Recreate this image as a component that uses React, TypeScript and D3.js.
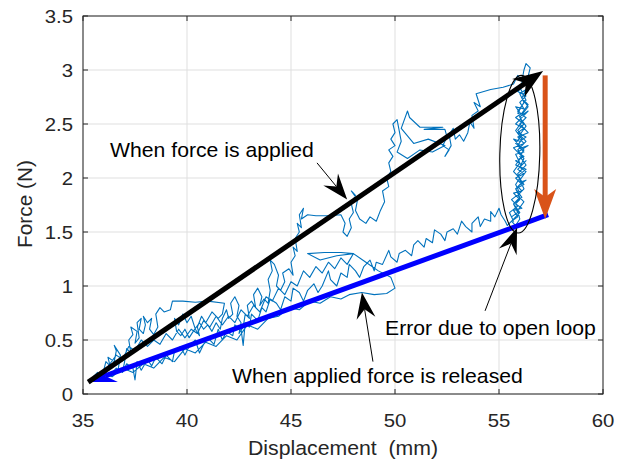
import React from "react";
import * as d3 from "d3";

const W = 628;
const H = 460;

const xTicks = [35, 40, 45, 50, 55, 60];
const yTicks = [0, 0.5, 1, 1.5, 2, 2.5, 3, 3.5];

const loadingPath = [
  [35.5, 0.16], [35.7, 0.2], [35.8, 0.15], [36.0, 0.22], [36.1, 0.3], [36.3, 0.26], [36.2, 0.34], [36.5, 0.3],
  [36.6, 0.4], [36.5, 0.45], [36.8, 0.36], [36.7, 0.24], [36.9, 0.2], [37.0, 0.3], [37.1, 0.42], [37.3, 0.38],
  [37.2, 0.5], [37.4, 0.55], [37.3, 0.62], [37.6, 0.58], [37.5, 0.47], [37.7, 0.52], [37.6, 0.66], [37.8, 0.7],
  [37.7, 0.6], [37.9, 0.56], [38.0, 0.64], [37.9, 0.72], [38.1, 0.66], [38.3, 0.7], [38.2, 0.6], [38.4, 0.55],
  [38.6, 0.62], [38.5, 0.74], [38.7, 0.8], [38.9, 0.76], [39.2, 0.78], [39.3, 0.86], [39.8, 0.86], [40.4, 0.85],
  [41.0, 0.86], [41.8, 0.84], [41.7, 0.74], [41.5, 0.7], [41.2, 0.76], [40.9, 0.66], [40.7, 0.72], [40.5, 0.62],
  [40.6, 0.54], [40.4, 0.6], [40.2, 0.72], [40.0, 0.66], [39.8, 0.74], [39.6, 0.64], [39.4, 0.7], [39.5, 0.58],
  [39.7, 0.54], [39.9, 0.6], [40.1, 0.52], [40.3, 0.58], [40.6, 0.66], [40.8, 0.6], [41.0, 0.64], [41.2, 0.58],
  [41.4, 0.66], [41.6, 0.6], [41.7, 0.7], [41.9, 0.78], [42.0, 0.7], [42.2, 0.74], [42.1, 0.84], [42.3, 0.9],
  [42.5, 0.82], [42.4, 0.72], [42.6, 0.66], [42.5, 0.56], [42.7, 0.62], [42.8, 0.74], [43.0, 0.7], [42.9, 0.82],
  [43.1, 0.86], [43.3, 0.8], [43.2, 0.92], [43.4, 0.98], [43.6, 0.9], [43.5, 0.82], [43.7, 0.88], [43.9, 0.84],
  [44.0, 0.96], [43.9, 1.06], [44.1, 1.14], [44.0, 1.24], [44.2, 1.2], [44.4, 1.1], [44.3, 1.0], [44.5, 0.96],
  [44.7, 1.04], [44.6, 1.12], [44.9, 1.16], [45.1, 1.1], [45.0, 1.22], [45.2, 1.28], [45.1, 1.36], [45.3, 1.32],
  [45.2, 1.44], [45.4, 1.5], [45.3, 1.58], [45.5, 1.54], [45.4, 1.66], [45.6, 1.72], [45.5, 1.62], [45.8, 1.66],
  [46.2, 1.65], [46.8, 1.65], [47.4, 1.66], [47.6, 1.58], [47.5, 1.5], [47.7, 1.46], [47.9, 1.54], [47.8, 1.62],
  [48.0, 1.68], [47.9, 1.76], [48.1, 1.84], [47.9, 1.88], [48.2, 1.8], [48.1, 1.7], [48.3, 1.62], [48.6, 1.58],
  [48.8, 1.64], [49.1, 1.6], [49.3, 1.7], [49.5, 1.78], [49.4, 1.88], [49.7, 1.92], [49.6, 2.0], [49.8, 2.06],
  [49.7, 2.14], [49.9, 2.2], [49.7, 2.26], [50.0, 2.3], [49.8, 2.36], [50.0, 2.42], [49.9, 2.5], [50.1, 2.54],
  [50.3, 2.34], [50.1, 2.24], [50.6, 2.18], [51.2, 2.26], [51.8, 2.24], [52.4, 2.3], [51.6, 2.36], [50.9, 2.32],
  [50.3, 2.46], [50.6, 2.62], [50.7, 2.56], [51.2, 2.47], [52.3, 2.47], [51.4, 2.45], [52.4, 2.45], [52.5, 2.38],
  [52.3, 2.3], [52.6, 2.26], [52.4, 2.2], [52.7, 2.3], [52.6, 2.4], [52.8, 2.46], [52.9, 2.36], [53.1, 2.4],
  [53.3, 2.34], [53.5, 2.42], [53.6, 2.52], [53.8, 2.46], [53.7, 2.58], [54.0, 2.62], [53.8, 2.7], [54.1, 2.66],
  [53.9, 2.78], [54.6, 2.82], [55.2, 2.84], [55.7, 2.87], [55.9, 2.95], [56.1, 2.9], [56.2, 3.0], [56.3, 3.06],
  [56.5, 3.02], [56.4, 2.94],
];

const openLoopPath = [
  [56.2, 2.86], [55.9, 2.8], [56.3, 2.76], [56.0, 2.7], [56.2, 2.64], [55.8, 2.66], [56.1, 2.58], [56.4, 2.62],
  [56.0, 2.54], [55.8, 2.5], [56.2, 2.46], [55.9, 2.42], [56.3, 2.38], [56.0, 2.34], [55.7, 2.36], [56.1, 2.28],
  [56.4, 2.3], [55.9, 2.24], [56.2, 2.2], [55.8, 2.16], [56.1, 2.12], [56.3, 2.16], [55.9, 2.08], [56.2, 2.04],
  [55.8, 2.0], [56.0, 1.96], [56.3, 1.98], [55.9, 1.92], [56.1, 1.88], [55.7, 1.86], [56.0, 1.8], [55.8, 1.76],
  [56.1, 1.72], [55.7, 1.7], [55.9, 1.64], [55.6, 1.6], [55.8, 1.56], [56.0, 1.62], [55.9, 1.7], [56.2, 1.78],
  [55.9, 1.84], [56.2, 1.9], [56.0, 1.98], [56.3, 2.06], [56.0, 2.1], [56.2, 2.18], [55.9, 2.26], [56.3, 2.34],
  [56.0, 2.4], [56.3, 2.48], [56.0, 2.56], [56.4, 2.66], [56.1, 2.74], [56.4, 2.84], [56.2, 2.92], [56.0, 2.84],
  [56.3, 2.72], [55.9, 2.62], [56.1, 2.52], [55.8, 2.44], [56.1, 2.36], [55.9, 2.3], [56.2, 2.24], [55.8, 2.22],
  [56.0, 2.14], [55.7, 2.06], [56.0, 2.0], [55.8, 1.94], [56.0, 1.86], [55.6, 1.8], [55.9, 1.74], [55.5, 1.68],
  [55.7, 1.6], [55.6, 1.64], [55.9, 1.68], [55.7, 1.76], [56.1, 1.82], [55.8, 1.9], [56.2, 1.94], [55.9, 2.02],
  [56.3, 2.08], [55.8, 2.12], [56.1, 2.2], [55.7, 2.28], [56.2, 2.32], [55.9, 2.38], [56.4, 2.42], [56.0, 2.5],
  [56.3, 2.56], [55.9, 2.6], [56.2, 2.7], [56.0, 2.78], [56.3, 2.82], [56.1, 2.74], [56.4, 2.68], [56.1, 2.6],
  [55.8, 2.56], [56.2, 2.5], [55.9, 2.44], [56.1, 2.4], [55.8, 2.32], [56.2, 2.26], [56.0, 2.2], [56.3, 2.12],
  [55.9, 2.04], [56.1, 1.96], [55.8, 1.9], [56.0, 1.82], [55.7, 1.76], [56.0, 1.68], [55.7, 1.62], [55.4, 1.56],
];

const releasePath = [
  [55.3, 1.6], [55.1, 1.66], [55.0, 1.72], [54.8, 1.64], [54.6, 1.69], [54.6, 1.6], [54.3, 1.62], [54.1, 1.55],
  [54.0, 1.64], [53.7, 1.58], [53.7, 1.5], [53.4, 1.55], [53.2, 1.6], [53.0, 1.48], [52.8, 1.53], [52.5, 1.5],
  [52.4, 1.42], [52.2, 1.48], [51.9, 1.52], [51.8, 1.4], [51.5, 1.44], [51.4, 1.36], [51.1, 1.42], [50.9, 1.38],
  [50.8, 1.28], [50.5, 1.33], [50.2, 1.3], [50.1, 1.22], [49.8, 1.27], [49.7, 1.33], [49.4, 1.2], [49.1, 1.22],
  [49.0, 1.14], [48.8, 1.24], [48.5, 1.18], [48.3, 1.08], [48.1, 1.14], [47.8, 1.2], [47.7, 1.08], [47.4, 1.12],
  [47.2, 1.0], [46.9, 1.06], [46.8, 1.14], [46.5, 1.0], [46.3, 0.94], [46.1, 1.02], [45.8, 0.96], [45.6, 0.86],
  [45.4, 0.94], [45.1, 0.98], [45.0, 0.86], [44.7, 0.9], [44.5, 0.78], [44.3, 0.84], [44.0, 0.88], [43.8, 0.76],
  [43.6, 0.8], [43.4, 0.68], [43.1, 0.74], [43.0, 0.62], [42.8, 0.66], [42.7, 0.45], [42.6, 0.6], [42.3, 0.64],
  [42.2, 0.54], [41.9, 0.58], [41.7, 0.5], [41.5, 0.6], [41.3, 0.46], [41.0, 0.52], [40.8, 0.46], [40.6, 0.38],
  [40.4, 0.5], [40.1, 0.44], [39.9, 0.36], [39.7, 0.44], [39.4, 0.4], [39.3, 0.3], [39.0, 0.36], [38.8, 0.28],
  [38.5, 0.34], [38.3, 0.26], [38.1, 0.32], [37.8, 0.22], [37.6, 0.3], [37.5, 0.13], [37.4, 0.24], [37.1, 0.28],
  [36.9, 0.2], [36.6, 0.24], [36.3, 0.17], [36.0, 0.2],
];

const secondPass = [
  [36.3, 0.28], [36.6, 0.36], [36.9, 0.32], [37.2, 0.44], [37.5, 0.4], [37.8, 0.5], [38.1, 0.44], [38.4, 0.5],
  [38.7, 0.46], [39.0, 0.56], [39.3, 0.5], [39.6, 0.6], [39.9, 0.52], [40.2, 0.6], [40.5, 0.56], [40.8, 0.68],
  [41.1, 0.62], [41.4, 0.72], [41.7, 0.64], [42.0, 0.72], [42.3, 0.66], [42.6, 0.78], [42.9, 0.72], [43.2, 0.82],
  [43.5, 0.76], [43.8, 0.9], [44.1, 0.86], [44.4, 0.98], [44.7, 0.92], [45.0, 1.04], [45.3, 1.0], [45.6, 1.14],
  [45.9, 1.08], [46.2, 1.18], [46.5, 1.12], [46.8, 1.22], [47.1, 1.16], [47.4, 1.26], [47.7, 1.2], [48.0, 1.3],
  [47.4, 1.31], [46.6, 1.31], [45.8, 1.3], [46.4, 1.24], [47.2, 1.28], [48.0, 1.3], [48.6, 1.22], [49.2, 1.14],
  [49.8, 1.08], [50.0, 0.98], [49.6, 0.93], [49.0, 0.92], [48.4, 0.94], [47.8, 0.92], [47.4, 0.88], [46.9, 0.9],
  [46.4, 0.84], [45.9, 0.86], [45.4, 0.78], [44.9, 0.8], [44.4, 0.72], [43.9, 0.7], [43.4, 0.6], [42.9, 0.64],
  [42.4, 0.5], [41.9, 0.54], [41.4, 0.44], [40.9, 0.48], [40.4, 0.38], [39.9, 0.42], [39.4, 0.3], [38.9, 0.34],
  [38.4, 0.24], [37.9, 0.28], [37.4, 0.2], [36.9, 0.24], [36.4, 0.16], [35.9, 0.2],
];

// fitted arrows [from, to]
const appliedArrow = [[35.25, 0.11], [57.12, 2.99]];
const releasedArrow = [[57.36, 1.66], [35.25, 0.11]];
const dropArrow = [[57.22, 2.95], [57.22, 1.62]];
const ellipseCenter = [56.0, 2.22];
const ellipseRadii = [0.96, 0.73];

const noteTexts = ["When force is applied", "Error due to open loop", "When applied force is released"];
const noteAt = [[36.3, 2.19], [49.52, 0.546], [42.16, 0.1]];
const noteFrom = [[46.25, 2.14], [54.33, 0.77], [48.94, 0.3]];
const noteTo = [[47.7, 1.8], [55.87, 1.54], [48.41, 0.94]];

const x = d3.scaleLinear().domain([35, 60]).range([83, 603]);
const y = d3.scaleLinear().domain([0, 3.5]).range([394, 16]);

const px = (p) => [x(p[0]), y(p[1])];

// arrow head with a notched back, tip at `to`
function head(from, to, L, Wd, notch) {
  const dx = to[0] - from[0], dy = to[1] - from[1];
  const len = Math.hypot(dx, dy);
  const ux = dx / len, uy = dy / len;
  const nx = -uy, ny = ux;
  const bx = to[0] - L * ux, by = to[1] - L * uy;
  const pts = [
    to,
    [bx + (Wd / 2) * nx, by + (Wd / 2) * ny],
    [to[0] - (L - notch) * ux, to[1] - (L - notch) * uy],
    [bx - (Wd / 2) * nx, by - (Wd / 2) * ny],
  ];
  return {
    points: pts.map((p) => p.join(",")).join(" "),
    base: pts[2],
  };
}

function Arrow({ seg, color, width, L, Wd, notch }) {
  const a = px(seg[0]);
  const b = px(seg[1]);
  const h = head(a, b, L, Wd, notch);
  return (
    <g>
      <line x1={a[0]} y1={a[1]} x2={h.base[0]} y2={h.base[1]} stroke={color} strokeWidth={width} />
      <polygon points={h.points} fill={color} />
    </g>
  );
}

function SText({ x0, y0, size, sx, anchor, fill, children }) {
  return (
    <g transform={`translate(${x0},${y0}) scale(${sx},1)`}>
      <text fontSize={size} textAnchor={anchor} fill={fill} style={{ whiteSpace: "pre" }}>
        {children}
      </text>
    </g>
  );
}

export default function App() {
  const line = d3.line().x((d) => x(d[0])).y((d) => y(d[1]));
  const trace = [...loadingPath, ...openLoopPath, ...releasePath, ...secondPass];
  const [x0, x1] = x.range();
  const [y0, y1] = y.range();
  const ec = px(ellipseCenter);

  return (
    <svg width={W} height={H} style={{ position: "absolute", left: 0, top: 0, background: "#fff" }}
      fontFamily="'Liberation Sans', Arial, Helvetica, sans-serif">
      <rect x={0} y={0} width={W} height={H} fill="#fff" />
      {/* grid */}
      {xTicks.map((t) => (
        <line key={"gx" + t} x1={x(t)} x2={x(t)} y1={y1} y2={y0} stroke="#dfdfdf" strokeWidth={1} />
      ))}
      {yTicks.map((t) => (
        <line key={"gy" + t} x1={x0} x2={x1} y1={y(t)} y2={y(t)} stroke="#dfdfdf" strokeWidth={1} />
      ))}

      {/* data */}
      <path d={line(trace)} fill="none" stroke="#0072BD" strokeWidth={1.1} strokeLinejoin="round" />

      <Arrow seg={releasedArrow} color="#0000FF" width={5} L={28} Wd={20} notch={10} />
      <Arrow seg={appliedArrow} color="#000" width={5} L={30} Wd={22} notch={9} />
      <Arrow seg={dropArrow} color="#D95319" width={5} L={30} Wd={22} notch={8} />

      <ellipse cx={ec[0]} cy={ec[1]} rx={x(ellipseCenter[0] + ellipseRadii[0]) - ec[0]}
        ry={ec[1] - y(ellipseCenter[1] + ellipseRadii[1])}
        transform={`rotate(1.3,${ec[0]},${ec[1]})`} fill="none" stroke="#000" strokeWidth={1.1} />

      {/* annotations */}
      {noteTexts.map((t, i) => {
        const a = px(noteFrom[i]);
        const b = px(noteTo[i]);
        const h = head(a, b, 26, 19, 9);
        const p = px(noteAt[i]);
        return (
          <g key={t}>
            <line x1={a[0]} y1={a[1]} x2={h.base[0]} y2={h.base[1]} stroke="#000" strokeWidth={1} />
            <polygon points={h.points} fill="#000" />
            <SText x0={p[0]} y0={p[1]} size={20} sx={1.06} anchor="start" fill="#000">{t}</SText>
          </g>
        );
      })}

      {/* box + ticks */}
      <rect x={x0} y={y1} width={x1 - x0} height={y0 - y1} fill="none" stroke="#262626" strokeWidth={1} />
      {xTicks.map((t) => (
        <g key={"tx" + t}>
          <line x1={x(t)} x2={x(t)} y1={y0} y2={y0 - 5} stroke="#262626" />
          <line x1={x(t)} x2={x(t)} y1={y1} y2={y1 + 5} stroke="#262626" />
          <SText x0={x(t)} y0={427} size={18.5} sx={1.1} anchor="middle" fill="#262626">{String(t)}</SText>
        </g>
      ))}
      {yTicks.map((t) => (
        <g key={"ty" + t}>
          <line x1={x0} x2={x0 + 5} y1={y(t)} y2={y(t)} stroke="#262626" />
          <line x1={x1} x2={x1 - 5} y1={y(t)} y2={y(t)} stroke="#262626" />
          <SText x0={73} y0={y(t) + 6.6} size={18.5} sx={1.1} anchor="end" fill="#262626">{String(t)}</SText>
        </g>
      ))}

      <SText x0={343} y0={455} size={19.5} sx={1.09} anchor="middle" fill="#262626">{"Displacement  (mm)"}</SText>
      <g transform="translate(32,204) rotate(-90)">
        <text fontSize={20.8} textAnchor="middle" fill="#262626">Force (N)</text>
      </g>
    </svg>
  );
}
